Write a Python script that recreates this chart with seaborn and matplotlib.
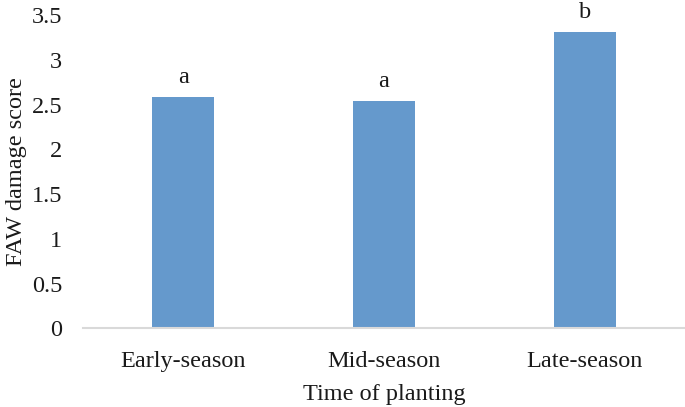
import matplotlib
matplotlib.use("Agg")
import matplotlib.pyplot as plt
import seaborn as sns
import pandas as pd

categories = ["Early-season", "Mid-season", "Late-season"]
scores = [2.58, 2.54, 3.31]
letters = ["a", "a", "b"]

sns.set_theme(style="white")
plt.rcParams['font.family'] = ['Liberation Serif', 'DejaVu Serif']

df = pd.DataFrame({"planting": categories, "score": scores})

fig = plt.figure(figsize=(6.85, 4.07), dpi=100)
ax = fig.add_axes([83/685, (407-328.3)/407, 1 - 83/685, 313.3/407])
sns.barplot(data=df, x="planting", y="score", color="#6599CC", saturation=1,
            width=0.31, ax=ax, edgecolor="none")

for i, (v, t) in enumerate(zip(scores, letters)):
    ax.text(i, v + 0.1, t, ha="center", va="bottom", fontsize=17.5, color="#1a1a1a")

ax.set_ylim(0, 3.5)
ax.set_xlim(-0.5, 2.5)
ax.set_yticks([0, 0.5, 1, 1.5, 2, 2.5, 3, 3.5])
ax.set_yticklabels(["0", "0.5", "1", "1.5", "2", "2.5", "3", "3.5"])
ax.tick_params(axis="both", labelsize=17.5, colors="#1a1a1a", length=0)
ax.tick_params(axis="y", pad=15)
ax.tick_params(axis="x", pad=16)
ax.set_xlabel("Time of planting", fontsize=17.5, color="#1a1a1a", labelpad=9)
ax.set_ylabel("FAW damage score", fontsize=17.5, color="#1a1a1a", labelpad=3)
for s in ["top", "right", "left"]:
    ax.spines[s].set_visible(False)
ax.spines["bottom"].set_color("#D9D9D9")
ax.spines["bottom"].set_linewidth(1.5)
ax.grid(False)

fig.savefig("out.png", dpi=100)
